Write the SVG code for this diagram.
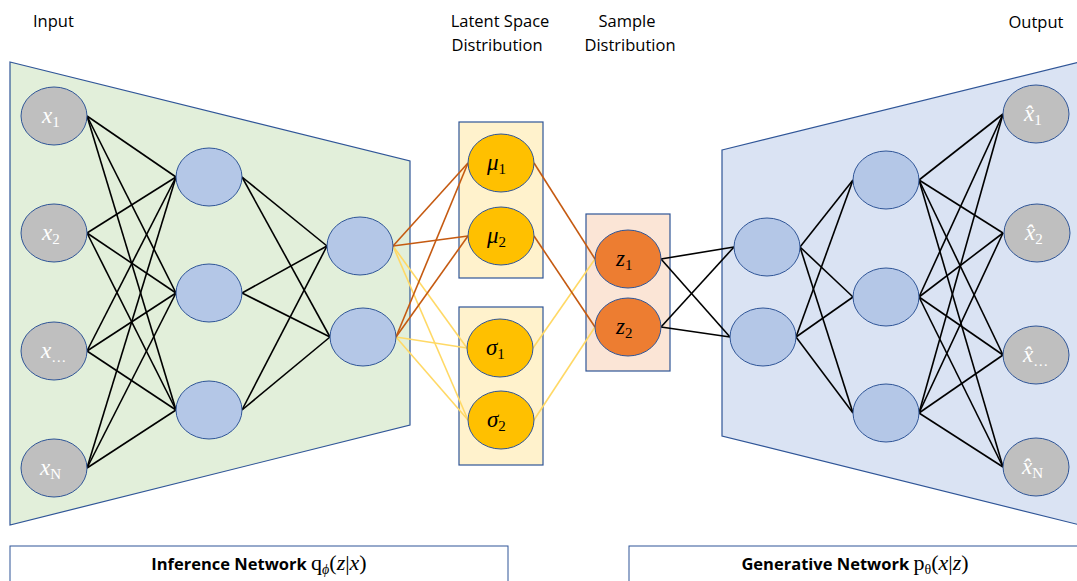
<svg xmlns="http://www.w3.org/2000/svg" width="1077" height="581" viewBox="0 0 1077 581">
  <style>
    .panel { stroke: #2f5597; stroke-width: 1.2; }
    .enc { fill: #e2efda; }
    .dec { fill: #dae3f3; }
    .box { stroke: #2f5597; stroke-width: 1.2; }
    .lat { fill: #fff2cc; }
    .smp { fill: #fbe5d6; }
    .cap { fill: #ffffff; stroke: #2f5597; stroke-width: 1; }
    .io { fill: #bfbfbf; stroke: #2f5597; stroke-width: 1; }
    .hid { fill: #b4c7e7; stroke: #2f5597; stroke-width: 1; }
    .gau { fill: #ffc000; stroke: #2f5597; stroke-width: 1; }
    .zn { fill: #ed7d31; stroke: #2f5597; stroke-width: 1; }
    .blk line { stroke: #000000; stroke-width: 1.6; }
    .org line { stroke: #c55a11; stroke-width: 1.6; }
    .yel line { stroke: #ffd966; stroke-width: 1.6; }
    .title { font-family: "Open Sans", "Liberation Sans", sans-serif; font-size: 16.5px; fill: #000; }
    .bold { font-family: "Open Sans", "Liberation Sans", sans-serif; font-size: 16.5px; font-weight: bold; fill: #000; }
    .m { font-family: "Liberation Serif", "DejaVu Serif", serif; font-size: 23px; font-style: italic; }
    .mw { fill: #ffffff; }
    .mb { fill: #000000; }
    .sub { font-size: 15px; font-style: normal; }
    .eq { font-family: "Liberation Serif", "DejaVu Serif", serif; font-size: 22px; fill: #000; }
  </style>

  <!-- network panels -->
  <g id="encoder-panel">
    <polygon class="panel enc" points="10,62 410,161 410,425 10,525"/>
  </g>
  <g id="decoder-panel">
    <polygon class="panel dec" points="722,150 1080,62 1080,525 722,436"/>
  </g>
  <g id="latent-mu-box"><rect class="box lat" x="459" y="122" width="84" height="156"/></g>
  <g id="latent-sigma-box"><rect class="box lat" x="459" y="307" width="84" height="158"/></g>
  <g id="sample-box"><rect class="box smp" x="586" y="214" width="84" height="157"/></g>

  <!-- headings -->
  <g id="headings">
    <text class="title" x="33" y="27">Input</text>
    <text class="title" x="500" y="27" text-anchor="middle">Latent Space</text>
    <text class="title" x="497" y="51" text-anchor="middle">Distribution</text>
    <text class="title" x="627" y="27" text-anchor="middle">Sample</text>
    <text class="title" x="630" y="51" text-anchor="middle">Distribution</text>
    <text class="title" x="1036" y="28" text-anchor="middle">Output</text>
  </g>

  <!-- connectors -->
  <g id="connectors">
    <g class="blk">
      <!-- input -> hidden 1 -->
      <line x1="87" y1="116" x2="176" y2="177"/><line x1="87" y1="116" x2="176" y2="293"/><line x1="87" y1="116" x2="176" y2="410"/>
      <line x1="87" y1="233" x2="176" y2="177"/><line x1="87" y1="233" x2="176" y2="293"/><line x1="87" y1="233" x2="176" y2="410"/>
      <line x1="87" y1="351" x2="176" y2="177"/><line x1="87" y1="351" x2="176" y2="293"/><line x1="87" y1="351" x2="176" y2="410"/>
      <line x1="87" y1="468" x2="176" y2="177"/><line x1="87" y1="468" x2="176" y2="293"/><line x1="87" y1="468" x2="176" y2="410"/>
      <!-- hidden 1 -> hidden 2 -->
      <line x1="242" y1="177" x2="327" y2="246"/><line x1="242" y1="177" x2="330" y2="337"/>
      <line x1="242" y1="293" x2="327" y2="246"/><line x1="242" y1="293" x2="330" y2="337"/>
      <line x1="242" y1="410" x2="327" y2="246"/><line x1="242" y1="410" x2="330" y2="337"/>
      <!-- samples -> decoder layer 1 -->
      <line x1="661" y1="259" x2="734" y2="247"/><line x1="661" y1="259" x2="730" y2="337"/>
      <line x1="661" y1="327" x2="734" y2="247"/><line x1="661" y1="327" x2="730" y2="337"/>
      <!-- decoder layer 1 -> layer 2 -->
      <line x1="800" y1="247" x2="853" y2="180"/><line x1="800" y1="247" x2="853" y2="297"/><line x1="800" y1="247" x2="853" y2="413"/>
      <line x1="796" y1="337" x2="853" y2="180"/><line x1="796" y1="337" x2="853" y2="297"/><line x1="796" y1="337" x2="853" y2="413"/>
      <!-- decoder layer 2 -> output -->
      <line x1="919" y1="180" x2="1003" y2="114"/><line x1="919" y1="180" x2="1003" y2="233"/><line x1="919" y1="180" x2="1003" y2="355"/><line x1="919" y1="180" x2="1003" y2="467"/>
      <line x1="919" y1="297" x2="1003" y2="114"/><line x1="919" y1="297" x2="1003" y2="233"/><line x1="919" y1="297" x2="1003" y2="355"/><line x1="919" y1="297" x2="1003" y2="467"/>
      <line x1="919" y1="413" x2="1003" y2="114"/><line x1="919" y1="413" x2="1003" y2="233"/><line x1="919" y1="413" x2="1003" y2="355"/><line x1="919" y1="413" x2="1003" y2="467"/>
    </g>
    <g class="yel">
      <line x1="393" y1="246" x2="467" y2="348"/><line x1="393" y1="246" x2="468" y2="420"/>
      <line x1="396" y1="337" x2="467" y2="348"/><line x1="396" y1="337" x2="468" y2="420"/>
      <line x1="533" y1="348" x2="595" y2="259"/>
      <line x1="534" y1="420" x2="595" y2="327"/>
    </g>
    <g class="org">
      <line x1="393" y1="246" x2="468" y2="163"/><line x1="393" y1="246" x2="468" y2="236"/>
      <line x1="396" y1="337" x2="468" y2="163"/><line x1="396" y1="337" x2="468" y2="236"/>
      <line x1="534" y1="163" x2="595" y2="259"/>
      <line x1="534" y1="236" x2="595" y2="327"/>
    </g>
  </g>

  <!-- encoder inputs -->
  <g id="in-x1"><ellipse class="io" cx="54" cy="116" rx="33" ry="29"/>
    <text class="m mw" x="42" y="123">x<tspan class="sub" dy="4">1</tspan></text></g>
  <g id="in-x2"><ellipse class="io" cx="54" cy="233" rx="33" ry="29"/>
    <text class="m mw" x="42" y="240">x<tspan class="sub" dy="4">2</tspan></text></g>
  <g id="in-xdots"><ellipse class="io" cx="54" cy="351" rx="33" ry="29"/>
    <text class="m mw" x="41" y="358">x<tspan class="sub" dy="4">…</tspan></text></g>
  <g id="in-xN"><ellipse class="io" cx="54" cy="468" rx="33" ry="29"/>
    <text class="m mw" x="40" y="475">x<tspan class="sub" dy="4" font-style="italic">N</tspan></text></g>

  <!-- encoder hidden layers -->
  <g id="enc-h1a"><ellipse class="hid" cx="209" cy="177" rx="33" ry="29"/></g>
  <g id="enc-h1b"><ellipse class="hid" cx="209" cy="293" rx="33" ry="29"/></g>
  <g id="enc-h1c"><ellipse class="hid" cx="209" cy="410" rx="33" ry="29"/></g>
  <g id="enc-h2a"><ellipse class="hid" cx="360" cy="246" rx="33" ry="29"/></g>
  <g id="enc-h2b"><ellipse class="hid" cx="363" cy="337" rx="33" ry="29"/></g>

  <!-- latent distribution parameters -->
  <g id="mu1"><ellipse class="gau" cx="501" cy="163" rx="33" ry="29"/>
    <text class="m mb" x="487" y="170">μ<tspan class="sub" dy="4">1</tspan></text></g>
  <g id="mu2"><ellipse class="gau" cx="501" cy="236" rx="33" ry="29"/>
    <text class="m mb" x="487" y="243">μ<tspan class="sub" dy="4">2</tspan></text></g>
  <g id="sigma1"><ellipse class="gau" cx="500" cy="348" rx="33" ry="29"/>
    <text class="m mb" x="486" y="355">σ<tspan class="sub" dy="4">1</tspan></text></g>
  <g id="sigma2"><ellipse class="gau" cx="501" cy="420" rx="33" ry="29"/>
    <text class="m mb" x="487" y="427">σ<tspan class="sub" dy="4">2</tspan></text></g>

  <!-- samples -->
  <g id="z1"><ellipse class="zn" cx="628" cy="259" rx="33" ry="29"/>
    <text class="m mb" x="616" y="266">z<tspan class="sub" dy="4">1</tspan></text></g>
  <g id="z2"><ellipse class="zn" cx="628" cy="327" rx="33" ry="29"/>
    <text class="m mb" x="616" y="334">z<tspan class="sub" dy="4">2</tspan></text></g>

  <!-- decoder hidden layers -->
  <g id="dec-h1a"><ellipse class="hid" cx="767" cy="247" rx="33" ry="29"/></g>
  <g id="dec-h1b"><ellipse class="hid" cx="763" cy="337" rx="33" ry="29"/></g>
  <g id="dec-h2a"><ellipse class="hid" cx="886" cy="180" rx="33" ry="29"/></g>
  <g id="dec-h2b"><ellipse class="hid" cx="886" cy="297" rx="33" ry="29"/></g>
  <g id="dec-h2c"><ellipse class="hid" cx="886" cy="413" rx="33" ry="29"/></g>

  <!-- decoder outputs -->
  <g id="out-x1"><ellipse class="io" cx="1036" cy="114" rx="33" ry="29"/>
    <text class="m mw" x="1024" y="121">x&#x302;<tspan class="sub" dy="4">1</tspan></text></g>
  <g id="out-x2"><ellipse class="io" cx="1037" cy="233" rx="33" ry="29"/>
    <text class="m mw" x="1025" y="240">x&#x302;<tspan class="sub" dy="4">2</tspan></text></g>
  <g id="out-xdots"><ellipse class="io" cx="1036" cy="355" rx="33" ry="29"/>
    <text class="m mw" x="1023" y="362">x&#x302;<tspan class="sub" dy="4">…</tspan></text></g>
  <g id="out-xN"><ellipse class="io" cx="1036" cy="467" rx="33" ry="29"/>
    <text class="m mw" x="1022" y="474">x&#x302;<tspan class="sub" dy="4" font-style="italic">N</tspan></text></g>

  <!-- captions -->
  <g id="caption-inference">
    <rect class="cap" x="10" y="546" width="498" height="45"/>
    <text x="259" y="570" text-anchor="middle"><tspan class="bold">Inference Network </tspan><tspan class="eq">q<tspan font-size="14" font-style="italic" dy="4">ϕ</tspan><tspan dy="-4">(</tspan><tspan font-style="italic">z</tspan>|<tspan font-style="italic">x</tspan>)</tspan></text>
  </g>
  <g id="caption-generative">
    <rect class="cap" x="629" y="546" width="460" height="45"/>
    <text x="855" y="570" text-anchor="middle"><tspan class="bold">Generative Network </tspan><tspan class="eq">p<tspan font-size="14" dy="4">θ</tspan><tspan dy="-4">(</tspan><tspan font-style="italic">x</tspan>|<tspan font-style="italic">z</tspan>)</tspan></text>
  </g>
</svg>
